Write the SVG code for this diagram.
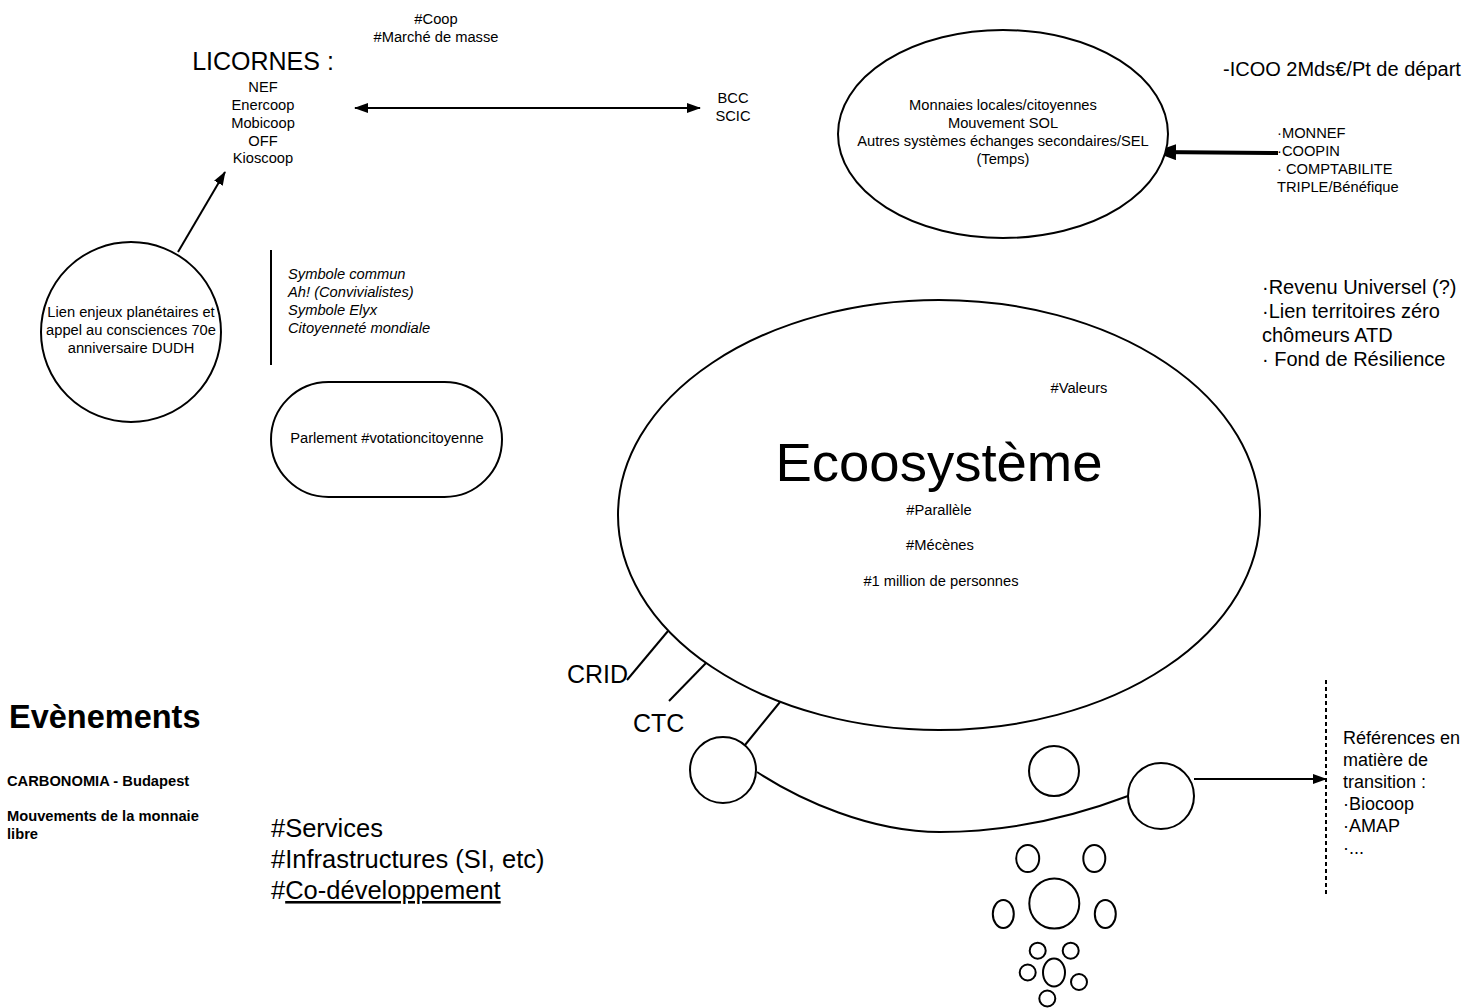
<svg xmlns="http://www.w3.org/2000/svg" width="1483" height="1008" viewBox="0 0 1483 1008">
<style>
text{font-family:"Liberation Sans",Arial,sans-serif;fill:#000}
.s{font-size:14.7px}
.c{text-anchor:middle}
.i{font-style:italic}
.b{font-weight:bold}
.m{font-size:20px}
.l{font-size:25.5px}
.r{font-size:18px}
.shape{fill:#fff;stroke:#000;stroke-width:2}
.ln{fill:none;stroke:#000;stroke-width:2}
</style>
<defs>
<marker id="ah" viewBox="0 0 14 10" refX="13" refY="5" markerWidth="14" markerHeight="10" markerUnits="userSpaceOnUse" orient="auto-start-reverse"><path d="M0,0 L14,5 L0,10 z" fill="#000"/></marker>
<marker id="ahb" viewBox="0 0 22 16" refX="21" refY="8" markerWidth="22" markerHeight="16" markerUnits="userSpaceOnUse" orient="auto"><path d="M0,0 L22,8 L0,16 z" fill="#000"/></marker>
</defs>
<rect width="1483" height="1008" fill="#fff"/>

<g id="connectors">
<line class="ln" x1="178" y1="252" x2="225" y2="172" marker-end="url(#ah)"/>
<line class="ln" x1="355" y1="108" x2="700" y2="108" marker-start="url(#ah)" marker-end="url(#ah)"/>
<line x1="1278" y1="153" x2="1155" y2="152" stroke="#000" stroke-width="4" marker-end="url(#ahb)"/>
<line class="ln" x1="271" y1="250" x2="271" y2="365"/>
<line class="ln" x1="668" y1="631" x2="627" y2="680"/>
<line class="ln" x1="706" y1="663" x2="669" y2="701"/>
<line class="ln" x1="780" y1="702" x2="745" y2="745"/>
<path class="ln" d="M757,772 C800,800 870,832 940,832 C1010,832 1070,818 1128,796"/>
<line class="ln" x1="1194" y1="779" x2="1326" y2="779" marker-end="url(#ah)"/>
<line x1="1326" y1="680" x2="1326" y2="895" stroke="#000" stroke-width="2" stroke-dasharray="4,3"/>
</g>

<g id="licornes">
<text x="263" y="70" class="c" style="font-size:25px">LICORNES :</text>
<text class="s c"><tspan x="263" y="92">NEF</tspan><tspan x="263" y="110">Enercoop</tspan><tspan x="263" y="127.5">Mobicoop</tspan><tspan x="263" y="145.5">OFF</tspan><tspan x="263" y="163">Kioscoop</tspan></text>
</g>
<g id="coop"><text class="s c"><tspan x="436" y="24">#Coop</tspan><tspan x="436" y="42">#Marché de masse</tspan></text></g>
<g id="bcc"><text class="s c"><tspan x="733" y="103">BCC</tspan><tspan x="733" y="121">SCIC</tspan></text></g>

<g id="monnaies">
<ellipse class="shape" cx="1003" cy="134" rx="165" ry="104"/>
<text class="s c"><tspan x="1003" y="110">Monnaies locales/citoyennes</tspan><tspan x="1003" y="128">Mouvement SOL</tspan><tspan x="1003" y="146">Autres systèmes échanges secondaires/SEL</tspan><tspan x="1003" y="164">(Temps)</tspan></text>
</g>
<g id="icoo"><text x="1223" y="76" class="m">-ICOO 2Mds€/Pt de départ</text></g>
<g id="monnef"><text class="s"><tspan x="1277" y="138">·MONNEF</tspan><tspan x="1277" y="156">·COOPIN</tspan><tspan x="1277" y="174">· COMPTABILITE</tspan><tspan x="1277" y="192">TRIPLE/Bénéfique</tspan></text></g>

<g id="lien">
<circle class="shape" cx="131" cy="332" r="90"/>
<text class="s c"><tspan x="131" y="317">Lien enjeux planétaires et</tspan><tspan x="131" y="335">appel au consciences 70e</tspan><tspan x="131" y="353">anniversaire DUDH</tspan></text>
</g>
<g id="symbole"><text class="s i"><tspan x="288" y="279">Symbole commun</tspan><tspan x="288" y="297">Ah! (Convivialistes)</tspan><tspan x="288" y="315">Symbole Elyx</tspan><tspan x="288" y="333">Citoyenneté mondiale</tspan></text></g>
<g id="parlement">
<rect class="shape" x="271" y="382" width="231" height="115" rx="57.5"/>
<text x="387" y="443" class="s c">Parlement #votationcitoyenne</text>
</g>
<g id="revenu"><text class="m"><tspan x="1262" y="294">·Revenu Universel (?)</tspan><tspan x="1262" y="318">·Lien territoires zéro</tspan><tspan x="1262" y="342">chômeurs ATD</tspan><tspan x="1262" y="366">· Fond de Résilience</tspan></text></g>

<g id="ecosysteme">
<ellipse class="shape" cx="939" cy="515" rx="321" ry="215"/>
<text x="1079" y="393" class="s c">#Valeurs</text>
<text x="939" y="481" class="c" style="font-size:54.5px">Ecoosystème</text>
<text x="939" y="515" class="s c">#Parallèle</text>
<text x="940" y="550" class="s c">#Mécènes</text>
<text x="941" y="586" class="s c">#1 million de personnes</text>
</g>
<g id="crid"><text x="567" y="683" style="font-size:25px">CRID</text></g>
<g id="ctc"><text x="633" y="732" style="font-size:25px">CTC</text></g>

<g id="bulle1"><circle class="shape" cx="723" cy="770" r="33"/></g>
<g id="bulle2"><circle class="shape" cx="1054" cy="771" r="25"/></g>
<g id="bulle3"><circle class="shape" cx="1161" cy="796" r="33"/></g>
<g id="petites-bulles" class="shape">
<ellipse cx="1027.7" cy="858.5" rx="11.5" ry="13.5"/>
<ellipse cx="1094.3" cy="858.5" rx="11" ry="13.5"/>
<circle cx="1054.3" cy="903.5" r="25"/>
<ellipse cx="1003.3" cy="914" rx="10.5" ry="14"/>
<ellipse cx="1105.3" cy="914" rx="10.5" ry="14"/>
<circle cx="1037.7" cy="950.7" r="8"/>
<circle cx="1070.7" cy="950.7" r="8"/>
<circle cx="1027.7" cy="972.5" r="8"/>
<ellipse cx="1054" cy="972.5" rx="11" ry="14"/>
<circle cx="1079" cy="982" r="8"/>
<circle cx="1047.3" cy="998.5" r="8"/>
</g>

<g id="references"><text class="r"><tspan x="1343" y="744">Références en</tspan><tspan x="1343" y="766">matière de</tspan><tspan x="1343" y="788">transition :</tspan><tspan x="1343" y="810">·Biocoop</tspan><tspan x="1343" y="832">·AMAP</tspan><tspan x="1343" y="854">·...</tspan></text></g>

<g id="evenements">
<text x="9" y="728" class="b" style="font-size:32.5px">Evènements</text>
<text class="s b"><tspan x="7" y="786">CARBONOMIA - Budapest</tspan><tspan x="7" y="821">Mouvements de la monnaie</tspan><tspan x="7" y="839">libre</tspan></text>
</g>
<g id="services"><text class="l"><tspan x="271" y="837">#Services</tspan><tspan x="271" y="868">#Infrastructures (SI, etc)</tspan><tspan x="271" y="899">#<tspan text-decoration="underline">Co-développement</tspan></tspan></text></g>
</svg>
